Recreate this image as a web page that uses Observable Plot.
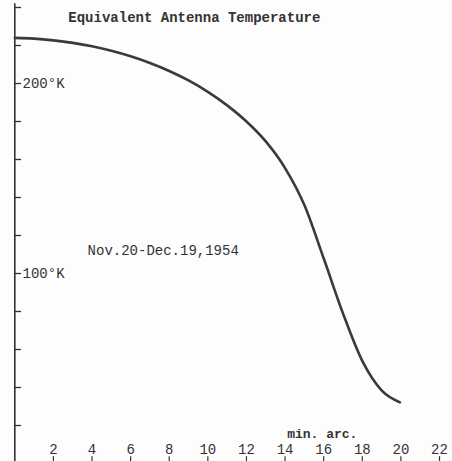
<!DOCTYPE html>
<html>
<head>
<meta charset="utf-8">
<script src="https://cdn.jsdelivr.net/npm/d3@7"></script>
<script src="https://cdn.jsdelivr.net/npm/@observablehq/plot@0.6"></script>
<style>
  html, body { margin: 0; padding: 0; background: #fdfdfd; }
  svg { display: block; }
</style>
</head>
<body>
<div id="chart"></div>
<script>
// Data
const arcMinutes = [0, 1, 2, 3, 4, 5, 6, 7, 8, 9, 10, 11, 12, 13, 14, 15, 16, 17, 18, 19, 19.95];
const temperatureK = [224, 223.6, 222.7, 221.4, 219.6, 217.2, 214.3, 210.8, 206.6, 201.6, 195.6, 188.5, 180, 169.5, 155.5, 136, 108, 79, 54, 38.5, 32.2];
const xTicks = [2, 4, 6, 8, 10, 12, 14, 16, 18, 20, 22];
const yTicks = [20, 40, 60, 80, 100, 120, 140, 160, 180, 200, 220, 240];
const yLabels = [{v: 200, t: "200°K"}, {v: 100, t: "100°K"}];
const title = "Equivalent Antenna Temperature";
const xLabel = "min. arc.";
const note = "Nov.20-Dec.19,1954";

const data = arcMinutes.map((x, i) => ({x, y: temperatureK[i]}));
const ink = "#333";
const font = "'Liberation Mono', 'DejaVu Sans Mono', monospace";

const chart = Plot.plot({
  width: 452,
  height: 461,
  margin: 0,
  style: {background: "transparent", fontFamily: font, color: ink},
  x: {domain: [0, 22], range: [14.3, 439], axis: null},
  y: {domain: [0, 240], range: [463, 7], axis: null},
  marks: [
    // y axis line and ticks
    Plot.ruleX([0], {y1: -2, y2: 242, stroke: ink, strokeWidth: 1.6}),
    Plot.ruleY(yTicks, {x1: 0, x2: 0.35, stroke: ink, strokeWidth: 1.3}),
    Plot.text(yLabels, {x: 0.4, y: "v", text: "t", textAnchor: "start", fontSize: 14, fill: ink}),
    // x ticks and labels
    Plot.ruleX(xTicks, {y1: -2, y2: 3.6, stroke: ink, strokeWidth: 1.2}),
    Plot.text(xTicks, {x: d => d, y: 7.3, text: d => String(d), fontSize: 14, fill: ink}),
    Plot.text([xLabel], {x: 15.93, y: 15.6, text: d => d, fontSize: 13, fontWeight: "bold", fill: ink}),
    // title and note
    Plot.text([title], {x: 9.3, y: 234.6, text: d => d, fontSize: 14, fontWeight: "bold", fill: ink}),
    Plot.text([note], {x: 3.77, y: 112, text: d => d, textAnchor: "start", fontSize: 14, fill: ink}),
    // curve
    Plot.line(data, {x: "x", y: "y", curve: "monotone-x", stroke: "#3a3a3a", strokeWidth: 2.6})
  ]
});
document.getElementById("chart").appendChild(chart);
</script>
</body>
</html>
